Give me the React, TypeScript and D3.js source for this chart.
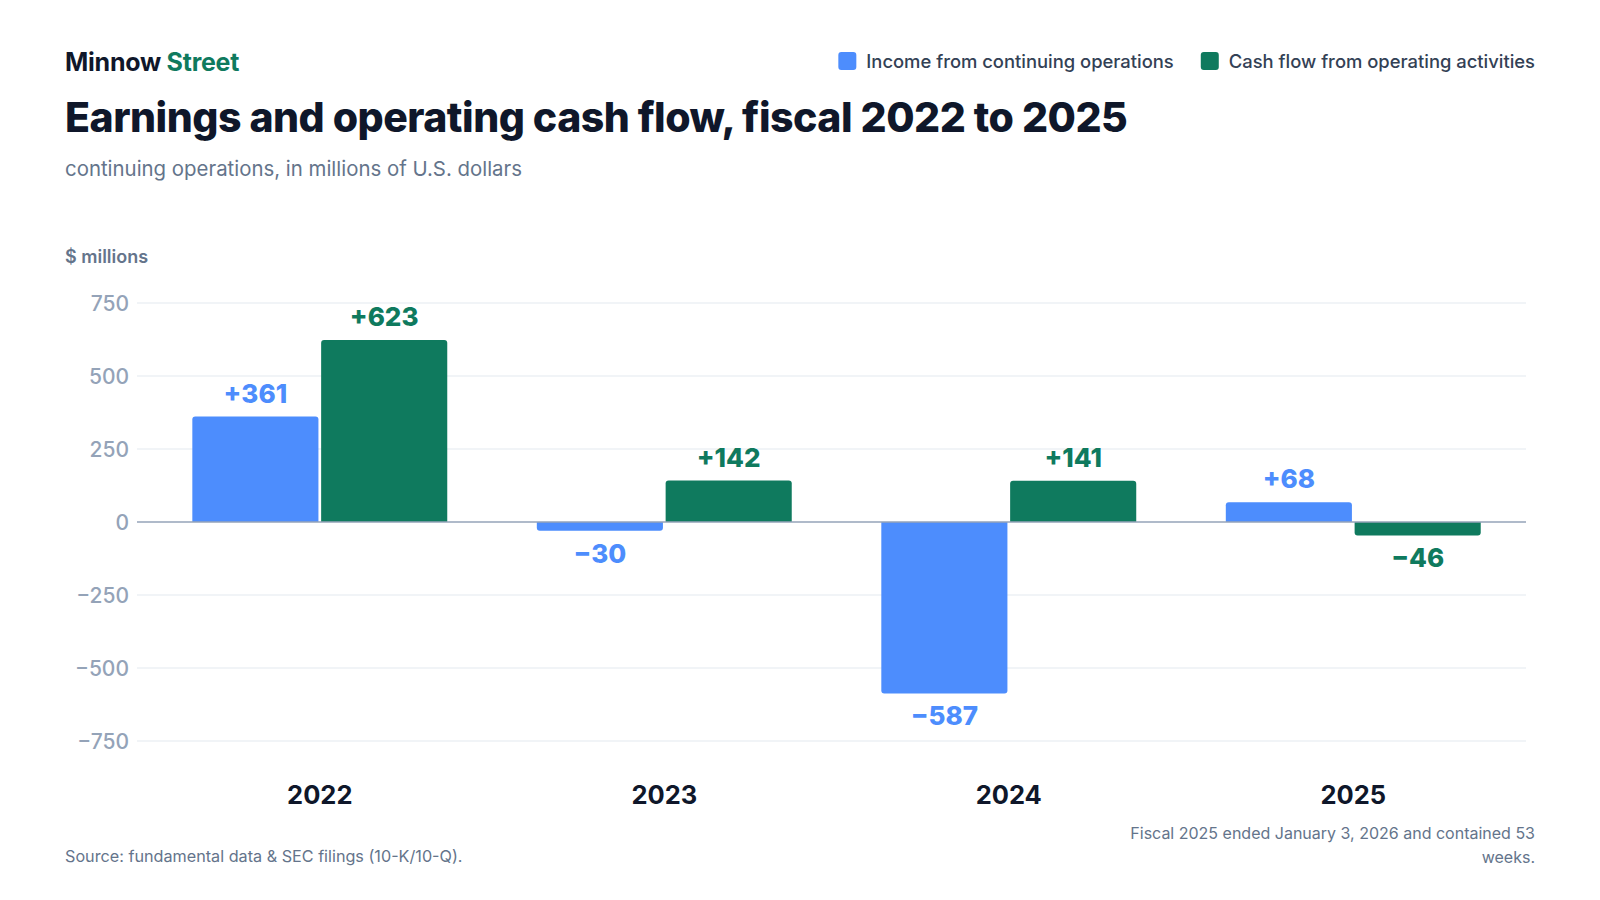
import React, { useRef, useEffect } from 'react';
import * as d3 from 'd3';

// Fiscal years and the two series, $ millions
const years = ['2022', '2023', '2024', '2025'];
const incomeValues = [361, -30, -587, 68];
const cashFlowValues = [623, 142, 141, -46];
const seriesNames = ['Income from continuing operations', 'Cash flow from operating activities'];
const yTicks = [-750, -500, -250, 0, 250, 500, 750];

const colors = {
    income: '#4d8dfd',
    cash: '#0f7a5e',
    ink: '#0f172a',
    muted: '#64748b',
    tick: '#94a3b8',
    grid: '#edf0f4',
    zero: '#94a3b8'
};

const font = 'Inter, "Noto Sans", sans-serif';
const minus = (n: number) => (n < 0 ? `\u2212${Math.abs(n)}` : `${n}`);
const signed = (n: number) => (n < 0 ? `\u2212${Math.abs(n)}` : `+${n}`);

export default function App() {
    const svgRef = useRef<SVGSVGElement | null>(null);

    useEffect(() => {
        if (!svgRef.current) return;
        const svg = d3.select(svgRef.current);
        svg.selectAll('*').remove();

        const width = 1600;
        const left = 65;
        const right = 1535;
        const plot = { x0: 137, x1: 1526 };

        // Header
        const brand = svg.append('text')
            .attr('x', left).attr('y', 71)
            .attr('font-family', font).attr('font-size', 25).attr('font-weight', 700)
            .attr('letter-spacing', -0.25);
        brand.append('tspan').attr('fill', colors.ink).text('Minnow ');
        brand.append('tspan').attr('fill', colors.cash).text('Street');

        svg.append('text')
            .attr('x', left).attr('y', 132)
            .attr('font-family', font).attr('font-size', 41).attr('font-weight', 800)
            .attr('letter-spacing', -0.5)
            .attr('fill', colors.ink)
            .text('Earnings and operating cash flow, fiscal 2022 to 2025');

        svg.append('text')
            .attr('x', left).attr('y', 176)
            .attr('font-family', font).attr('font-size', 20.4)
            .attr('fill', colors.muted)
            .text('continuing operations, in millions of U.S. dollars');

        // Legend, laid out right to left
        const legend = svg.append('g');
        const legendColors = [colors.income, colors.cash];
        let cursor = right;
        for (let i = seriesNames.length - 1; i >= 0; i--) {
            const t = legend.append('text')
                .attr('y', 68)
                .attr('font-family', font).attr('font-size', 18.4).attr('font-weight', 500)
                .attr('fill', '#334155')
                .text(seriesNames[i]);
            const w = (t.node() as SVGTextElement).getComputedTextLength();
            t.attr('x', cursor - w);
            legend.append('rect')
                .attr('x', cursor - w - 28).attr('y', 52)
                .attr('width', 18).attr('height', 18).attr('rx', 3)
                .attr('fill', legendColors[i]);
            cursor = cursor - w - 28 - 27;
        }

        // Scales
        const y = d3.scaleLinear().domain([-750, 750]).range([741, 303]);
        const x0 = d3.scaleBand<string>()
            .domain(years)
            .range([plot.x0, plot.x1])
            .paddingInner(0.26)
            .paddingOuter(0.146)
            .align(0.55);
        const x1 = d3.scaleBand<string>()
            .domain(['income', 'cash'])
            .range([0, x0.bandwidth()])
            .paddingInner(0.021);

        svg.append('text')
            .attr('x', left).attr('y', 263)
            .attr('font-family', font).attr('font-size', 18).attr('font-weight', 600)
            .attr('fill', colors.muted)
            .text('$ millions');

        // Grid
        const grid = svg.append('g');
        grid.selectAll('line')
            .data(yTicks.filter(d => d !== 0))
            .join('line')
            .attr('x1', plot.x0).attr('x2', plot.x1)
            .attr('y1', d => y(d)).attr('y2', d => y(d))
            .attr('stroke', colors.grid).attr('stroke-width', 1.5);

        svg.append('g').selectAll('text')
            .data(yTicks)
            .join('text')
            .attr('x', plot.x0 - 8)
            .attr('y', d => y(d))
            .attr('dy', '0.36em')
            .attr('text-anchor', 'end')
            .attr('font-family', font).attr('font-size', 21).attr('font-weight', 500)
            .attr('fill', colors.tick)
            .text(d => minus(d));

        // Bars with rounded far corners
        const r = 3;
        const barPath = (x: number, w: number, v: number) => {
            const z = y(0);
            const e = y(v);
            if (v >= 0) {
                return `M${x},${z}V${e + r}Q${x},${e} ${x + r},${e}H${x + w - r}Q${x + w},${e} ${x + w},${e + r}V${z}Z`;
            }
            return `M${x},${z}V${e - r}Q${x},${e} ${x + r},${e}H${x + w - r}Q${x + w},${e} ${x + w},${e - r}V${z}Z`;
        };

        const series = [
            { key: 'income', values: incomeValues, color: colors.income },
            { key: 'cash', values: cashFlowValues, color: colors.cash }
        ];

        const bars = svg.append('g');
        const labels = svg.append('g');
        series.forEach(s => {
            s.values.forEach((v, i) => {
                const bx = x0(years[i])! + x1(s.key)!;
                const bw = x1.bandwidth();
                bars.append('path')
                    .attr('d', barPath(bx, bw, v))
                    .attr('fill', s.color);
                labels.append('text')
                    .attr('x', bx + bw / 2)
                    .attr('y', v >= 0 ? y(v) - 14 : y(v) + 32)
                    .attr('text-anchor', 'middle')
                    .attr('font-family', font).attr('font-size', 26).attr('font-weight', 800)
                    .attr('fill', s.color)
                    .text(signed(v));
            });
        });

        // Zero line
        svg.append('line')
            .attr('x1', plot.x0).attr('x2', plot.x1)
            .attr('y1', y(0)).attr('y2', y(0))
            .attr('stroke', colors.zero).attr('stroke-width', 1.5);

        // Year labels
        svg.append('g').selectAll('text')
            .data(years)
            .join('text')
            .attr('x', d => x0(d)! + x0.bandwidth() / 2)
            .attr('y', 804)
            .attr('text-anchor', 'middle')
            .attr('font-family', font).attr('font-size', 25.5).attr('font-weight', 700)
            .attr('fill', colors.ink)
            .text(d => d);

        // Footer
        svg.append('text')
            .attr('x', left).attr('y', 862)
            .attr('font-family', font).attr('font-size', 16.2)
            .attr('fill', colors.muted)
            .text('Source: fundamental data & SEC filings (10-K/10-Q).');

        const note = svg.append('text')
            .attr('text-anchor', 'end')
            .attr('font-family', font).attr('font-size', 16)
            .attr('fill', colors.muted);
        note.append('tspan').attr('x', right).attr('y', 839)
            .text('Fiscal 2025 ended January 3, 2026 and contained 53');
        note.append('tspan').attr('x', right).attr('y', 863)
            .text('weeks.');

        svg.attr('width', width).attr('height', 900);
    }, []);

    return (
        <div style={{ position: 'absolute', left: 0, top: 0, width: 1600, height: 900, background: '#fff' }}>
            <svg ref={svgRef} width={1600} height={900}></svg>
        </div>
    );
}
